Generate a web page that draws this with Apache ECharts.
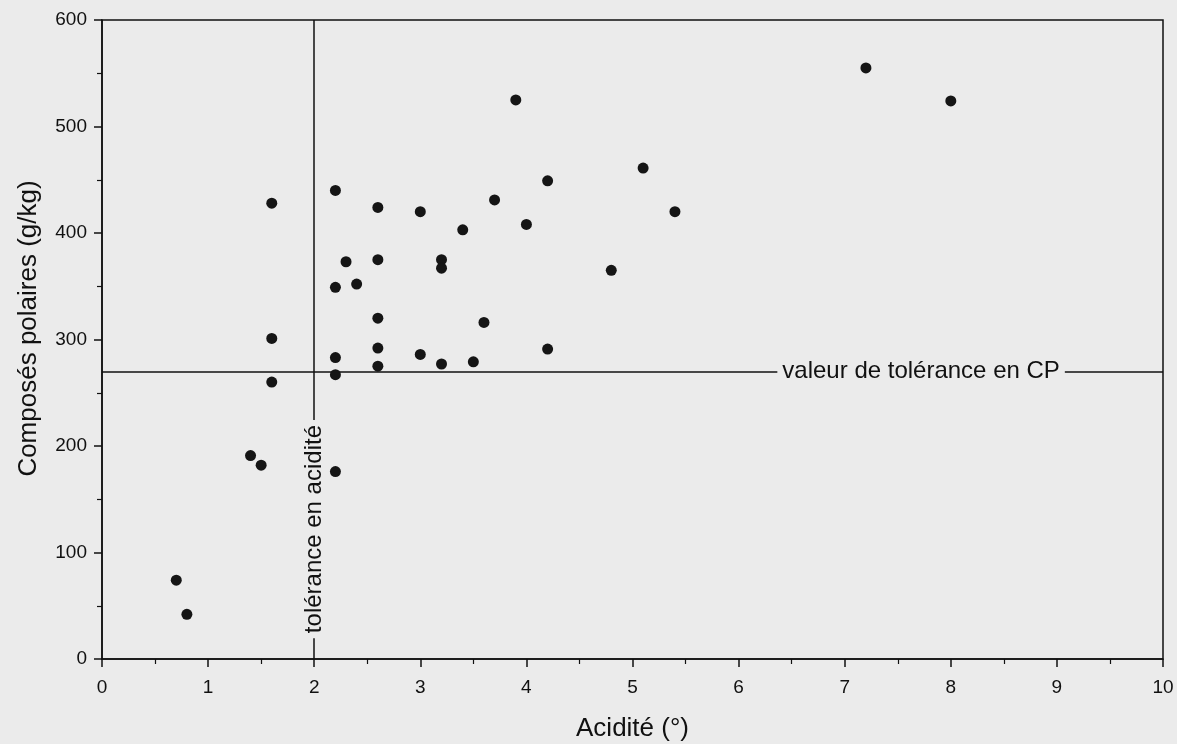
<!DOCTYPE html>
<html>
<head>
<meta charset="utf-8">
<title>Acidité / Composés polaires</title>
<script src="https://cdn.jsdelivr.net/npm/echarts@6/dist/echarts.min.js"></script>
<style>
  html, body { margin: 0; padding: 0; background: #ebebeb; }
  #chart { width: 1177px; height: 744px; }
</style>
</head>
<body>
<div id="chart"></div>
<script>
// valeurs
var acidite = [0.7, 0.8, 1.4, 1.5, 1.6, 1.6, 1.6, 2.2, 2.2, 2.2, 2.2, 2.2, 2.3, 2.4,
               2.6, 2.6, 2.6, 2.6, 2.6, 3.0, 3.0, 3.2, 3.2, 3.2, 3.4, 3.5, 3.6, 3.7,
               3.9, 4.0, 4.2, 4.2, 4.8, 5.1, 5.4, 7.2, 8.0];
var composesPolaires = [74, 42, 191, 182, 428, 301, 260, 440, 349, 283, 267, 176, 373, 352,
                        424, 375, 320, 292, 275, 420, 286, 375, 367, 277, 403, 279, 316, 431,
                        525, 408, 449, 291, 365, 461, 420, 555, 524];
var toleranceAcidite = 2;      // °
var toleranceCP = 270;         // g/kg
var xTicks = [0, 10, 1];       // min, max, pas
var yTicks = [0, 600, 100];

var FONT = '"Liberation Sans", Arial, sans-serif';
var INK = '#111';
var BG = '#ebebeb';

var chart = echarts.init(document.getElementById('chart'));

var points = [];
for (var i = 0; i < acidite.length; i++) {
    points.push([acidite[i], composesPolaires[i]]);
}

var axisCommon = {
    axisLine: { show: true, lineStyle: { color: INK, width: 1.5 } },
    axisTick: { show: true, inside: false, length: 8, lineStyle: { color: INK, width: 1.5 } },
    minorTick: { show: true, splitNumber: 2, length: 5, lineStyle: { color: INK, width: 1.2 } },
    splitLine: { show: false },
    nameLocation: 'middle'
};

var option = {
    backgroundColor: BG,
    animation: false,
    grid: {
        left: 102, right: 14, top: 20, bottom: 85,
        outerBoundsMode: 'none',
        containLabel: false,
        show: true, borderColor: INK, borderWidth: 1.5, backgroundColor: 'transparent'
    },
    xAxis: echarts.util.merge({
        type: 'value',
        min: xTicks[0], max: xTicks[1], interval: xTicks[2],
        name: 'Acidité (°)',
        nameGap: 57,
        nameTextStyle: { color: INK, fontFamily: FONT, fontSize: 26 },
        axisLabel: { color: INK, fontFamily: FONT, fontSize: 19, margin: 19 }
    }, axisCommon),
    yAxis: echarts.util.merge({
        type: 'value',
        min: yTicks[0], max: yTicks[1], interval: yTicks[2],
        name: 'Composés polaires (g/kg)',
        nameGap: 60,
        nameTextStyle: { color: INK, fontFamily: FONT, fontSize: 26, padding: [0, 0, 0, 22] },
        axisLabel: { color: INK, fontFamily: FONT, fontSize: 19, margin: 15 }
    }, axisCommon),
    series: [{
        type: 'scatter',
        data: points,
        symbolSize: 11,
        itemStyle: { color: '#151515', opacity: 1 },
        z: 5,
        markLine: {
            silent: true,
            symbol: 'none',
            label: { show: false },
            lineStyle: { color: INK, width: 1.5, type: 'solid' },
            data: [
                { xAxis: toleranceAcidite },
                { yAxis: toleranceCP }
            ]
        },
        markPoint: {
            silent: true,
            symbol: 'rect',
            symbolSize: 1,
            itemStyle: { color: 'transparent' },
            label: {
                show: true,
                position: 'inside',
                color: INK,
                fontFamily: FONT,
                fontSize: 24,
                backgroundColor: BG,
                padding: [2, 5]
            },
            data: [
                { coord: [7.72, toleranceCP], value: 'valeur de tolérance en CP' },
                { coord: [toleranceAcidite, 122], value: 'tolérance en acidité', label: { rotate: 90 } }
            ]
        }
    }]
};

chart.setOption(option);
</script>
</body>
</html>
